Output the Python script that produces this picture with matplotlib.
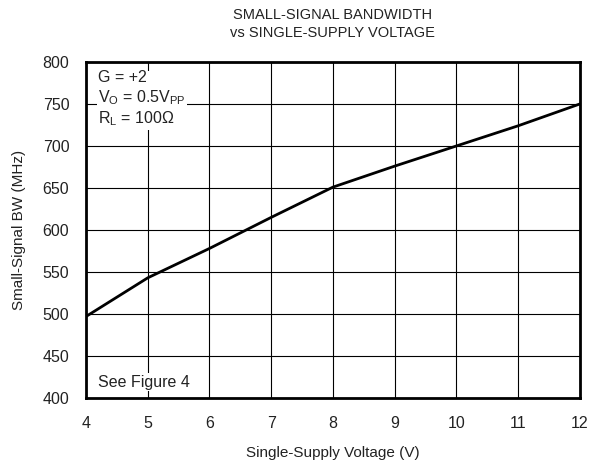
import matplotlib
matplotlib.use("Agg")
import matplotlib.pyplot as plt

plt.rcParams['font.family'] = ['Liberation Sans', 'DejaVu Sans']
txt = '#222222'

# data
voltage = [4, 5, 6, 7, 8, 9, 10, 11, 12]
bandwidth = [497, 543, 578, 615, 651, 676, 700, 724, 750]
x_ticks = [4, 5, 6, 7, 8, 9, 10, 11, 12]
y_ticks = [400, 450, 500, 550, 600, 650, 700, 750, 800]

fig = plt.figure(figsize=(5.99, 4.66), dpi=100)
ax = fig.add_axes([0.1436, 0.146, 0.8244, 0.721])

ax.plot(voltage, bandwidth, color='black', linewidth=2)

ax.set_xlim(4, 12)
ax.set_ylim(400, 800)
ax.set_xticks(x_ticks)
ax.set_yticks(y_ticks)
ax.grid(True, color='black', linewidth=0.8)
ax.tick_params(length=0, labelsize=11.5, labelcolor=txt)
ax.tick_params(axis='x', pad=13)
ax.tick_params(axis='y', pad=12)
for s in ax.spines.values():
    s.set_linewidth(2)

ax.set_xlabel('Single-Supply Voltage (V)', fontsize=11, color=txt)
ax.set_ylabel('Small-Signal BW (MHz)', fontsize=11, color=txt)
ax.xaxis.set_label_coords(0.5, -0.143)
ax.yaxis.set_label_coords(-0.122, 0.5)
ax.set_title('SMALL-SIGNAL BANDWIDTH\nvs SINGLE-SUPPLY VOLTAGE', fontsize=10.5, pad=18,
             linespacing=1.35, color=txt)

ax.text(0.025, 0.975, 'G = +2\n$\\mathregular{V_O}$ = 0.5$\\mathregular{V_{PP}}$\n$\\mathregular{R_L}$ = 100Ω',
        transform=ax.transAxes, fontsize=11.5, va='top', ha='left', linespacing=1.2,
        color=txt, bbox=dict(facecolor='white', edgecolor='none', pad=1))
ax.text(0.025, 0.025, 'See Figure 4', transform=ax.transAxes, fontsize=11.5,
        va='bottom', ha='left', color=txt,
        bbox=dict(facecolor='white', edgecolor='none', pad=1))

fig.savefig('out.png', dpi=100)
